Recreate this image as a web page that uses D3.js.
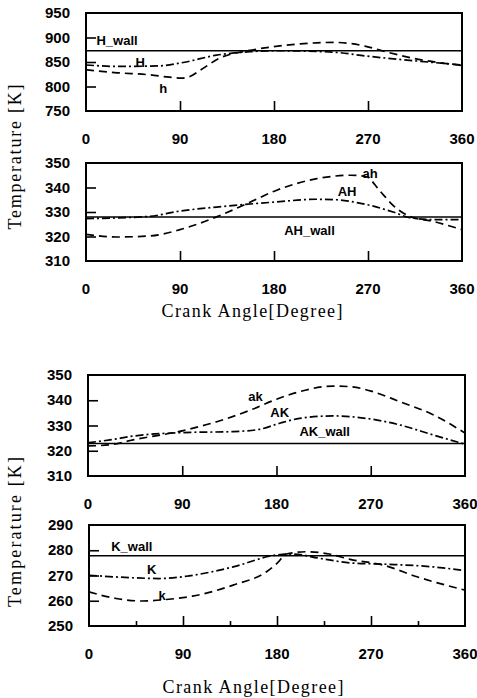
<!DOCTYPE html>
<html>
<head>
<meta charset="utf-8">
<script src="https://cdn.jsdelivr.net/npm/d3@7"></script>
<style>
  body { margin: 0; background: #fff; }
  svg { display: block; }
  .tick-lbl { font-family: "Liberation Sans", Arial, sans-serif; font-weight: bold; font-size: 15px; }
  .curve-lbl { font-family: "Liberation Sans", Arial, sans-serif; font-weight: bold; font-size: 13px; }
  .title { font-family: "Liberation Serif", "Times New Roman", serif; font-size: 18px; }
</style>
</head>
<body>
<div id="chart"></div>
<script>
// x axis, shared by all panels
const angleTicks = [0, 90, 180, 270, 360]
const minorTicks = [45, 135, 225, 315]

// panel 1 : H
const hTicks = [750, 800, 850, 900, 950]
const hWall = 873
const hGasH = [[0, 844], [30, 841], [70, 842], [93, 849], [125, 864], [157, 871], [183, 873], [237, 870], [269, 862], [317, 852], [360, 844]]
const hGasSmall = [[0, 834], [30, 828], [60, 824], [80, 819], [92, 817], [100, 821], [110, 834], [128, 858], [155, 873], [175, 880], [205, 887], [237, 890], [268, 882], [285, 872], [317, 856], [360, 843]]

// panel 2 : AH
const ahTicks = [310, 320, 330, 340, 350]
const ahWall = 328
const ahGasAH = [[0, 327.3], [60, 328.2], [90, 330.4], [125, 332], [182, 334.1], [220, 335.2], [240, 335], [256, 334.1], [272, 332.7], [294, 330], [310, 327.7], [332, 326.9], [360, 326.9]]
const ahGasSmall = [[0, 320.9], [29, 319.8], [61, 320.2], [90, 322.8], [125, 328], [157, 334], [182, 338.8], [221, 343.6], [253, 345], [268, 344.5], [281, 338.8], [294, 332.7], [310, 328.2], [332, 326.2], [360, 322.8]]

// panel 3 : AK
const akTicks = [310, 320, 330, 340, 350]
const akWall = 322.9
const akGasAK = [[0, 323.2], [21, 324.3], [43, 325.8], [91, 327.2], [139, 327.6], [164, 328.5], [183, 330.9], [202, 332.8], [234, 333.8], [266, 332.8], [298, 330.2], [330, 326.2], [360, 322.6]]
const akGasSmall = [[0, 321.9], [20, 322.3], [43, 324.3], [91, 328], [123, 331.5], [155, 336.1], [180, 340.4], [202, 343.4], [234, 345.6], [250, 345.4], [272, 343.4], [298, 339.4], [330, 334.2], [360, 327]]

// panel 4 : K
const kTicks = [250, 260, 270, 280, 290]
const kWall = 277.8
const kGasK = [[0, 270.1], [42, 269.1], [67, 268.8], [93, 269.7], [138, 273.4], [179, 278.1], [195, 278.5], [221, 276.8], [250, 275], [282, 274.5], [330, 273.4], [360, 271.9]]
const kGasSmall = [[0, 263.5], [26, 260.9], [51, 259.9], [74, 260.5], [99, 261.8], [138, 266.2], [170, 271.5], [180, 274.8], [189, 278.5], [208, 279.4], [230, 278.5], [250, 276.4], [282, 274.1], [314, 269.5], [360, 264.2]]

const panels = [
  { box: [86, 13, 462, 111], ticks: hTicks, wall: hWall, solidLike: hGasH, dashed: hGasSmall,
    labels: [["H_wall", 10, 893, "start"], ["H", 52, 848, "middle"], ["h", 74, 795, "middle"]] },
  { box: [86, 163, 462, 261], ticks: ahTicks, wall: ahWall, solidLike: ahGasAH, dashed: ahGasSmall,
    labels: [["AH_wall", 214, 322.4, "middle"], ["AH", 250, 338.2, "middle"], ["ah", 272, 345.5, "middle"]] },
  { box: [88, 375, 465, 476], ticks: akTicks, wall: akWall, solidLike: akGasAK, dashed: akGasSmall,
    labels: [["AK_wall", 226, 327.5, "middle"], ["AK", 183, 335.1, "middle"], ["ak", 160, 341.3, "middle"]] },
  { box: [89, 525, 465, 626], ticks: kTicks, wall: kWall, solidLike: kGasK, dashed: kGasSmall, minor: true,
    labels: [["K_wall", 41, 281.4, "middle"], ["K", 60, 272.1, "middle"], ["k", 70, 261.8, "middle"]] }
]

const svg = d3.select("#chart").append("svg")
  .attr("width", 477)
  .attr("height", 698)

panels.forEach(p => {
  let [x0, y0, x1, y1] = p.box
  let x = d3.scaleLinear().domain([0, 360]).range([x0, x1])
  let y = d3.scaleLinear().domain(d3.extent(p.ticks)).range([y1, y0])
  let g = svg.append("g")

  let line = d3.line()
    .x(d => x(d[0]))
    .y(d => y(d[1]))
    .curve(d3.curveMonotoneX)

  // wall temperature
  g.append("line")
    .attr("x1", x0).attr("x2", x1)
    .attr("y1", y(p.wall)).attr("y2", y(p.wall))
    .attr("stroke", "#000").attr("stroke-width", 1.5)

  // dash-dot capital letter curve
  g.append("path")
    .attr("d", line(p.solidLike))
    .attr("fill", "none").attr("stroke", "#000").attr("stroke-width", 1.7)
    .attr("stroke-dasharray", "8,3,2,3")

  // dashed small letter curve
  g.append("path")
    .attr("d", line(p.dashed))
    .attr("fill", "none").attr("stroke", "#000").attr("stroke-width", 1.7)
    .attr("stroke-dasharray", "8,5")

  // frame
  g.append("rect")
    .attr("x", x0).attr("y", y0)
    .attr("width", x1 - x0).attr("height", y1 - y0)
    .attr("fill", "none").attr("stroke", "#000").attr("stroke-width", 2)

  // inner ticks
  let yAxis = d3.axisRight(y).tickValues(p.ticks.slice(1, -1)).tickSize(10).tickFormat("")
  g.append("g").attr("transform", "translate(" + x0 + ",0)").call(yAxis)
    .call(a => a.select(".domain").remove())
    .selectAll("line").attr("stroke-width", 1.6)

  let xAxis = d3.axisTop(x).tickValues(angleTicks.slice(1, -1)).tickSize(10).tickFormat("")
  g.append("g").attr("transform", "translate(0," + y1 + ")").call(xAxis)
    .call(a => a.select(".domain").remove())
    .selectAll("line").attr("stroke-width", 1.6)

  if (p.minor) {
    let mAxis = d3.axisTop(x).tickValues(minorTicks).tickSize(5).tickFormat("")
    g.append("g").attr("transform", "translate(0," + y1 + ")").call(mAxis)
      .call(a => a.select(".domain").remove())
      .selectAll("line").attr("stroke-width", 1.6)
  }

  // tick labels
  g.selectAll(".ylbl").data(p.ticks).enter().append("text")
    .attr("class", "tick-lbl")
    .attr("x", x0 - 16).attr("y", d => y(d) + 5)
    .attr("text-anchor", "end")
    .text(d => d)

  g.selectAll(".xlbl").data(angleTicks).enter().append("text")
    .attr("class", "tick-lbl")
    .attr("x", d => x(d)).attr("y", y1 + 33)
    .attr("text-anchor", "middle")
    .text(d => d)

  // curve labels
  p.labels.forEach(l => {
    g.append("text")
      .attr("class", "curve-lbl")
      .attr("x", x(l[1])).attr("y", y(l[2]) + 4)
      .attr("text-anchor", l[3])
      .text(l[0])
  })
})

// axis titles
const titles = [
  { text: "Crank Angle[Degree]", x: 252, y: 317, rot: false, len: 181 },
  { text: "Crank Angle[Degree]", x: 253, y: 693, rot: false, len: 181 },
  { text: "Temperature [K]", x: 21, y: 157, rot: true, len: 145 },
  { text: "Temperature [K]", x: 21, y: 532, rot: true, len: 150 }
]
titles.forEach(t => {
  svg.append("text")
    .attr("class", "title")
    .attr("text-anchor", "middle")
    .attr("transform", "translate(" + t.x + "," + t.y + ")" + (t.rot ? " rotate(-90)" : ""))
    .attr("textLength", t.len)
    .attr("lengthAdjust", "spacing")
    .text(t.text)
})
</script>
</body>
</html>
